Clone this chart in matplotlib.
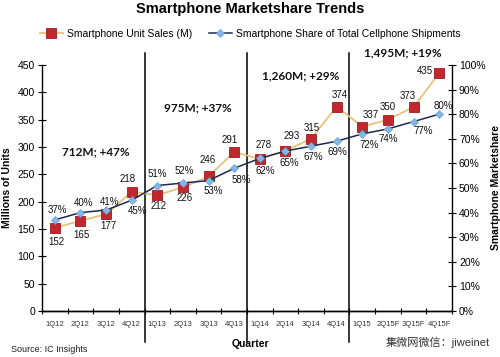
import matplotlib
matplotlib.use("Agg")
import matplotlib.pyplot as plt
import matplotlib.transforms as mtransforms
from matplotlib.ticker import FuncFormatter

plt.rcParams['font.family'] = ['Liberation Sans', 'Noto Sans CJK SC', 'DejaVu Sans']

quarters = ["1Q12", "2Q12", "3Q12", "4Q12", "1Q13", "2Q13", "3Q13", "4Q13",
            "1Q14", "2Q14", "3Q14", "4Q14", "1Q15", "2Q15F", "3Q15F", "4Q15F"]
unit_sales = [152, 165, 177, 218, 212, 226, 246, 291,
              278, 293, 315, 374, 337, 350, 373, 435]
share_pct = [37, 40, 41, 45, 51, 52, 53, 58,
             62, 65, 67, 69, 72, 74, 77, 80]
year_notes = ["712M; +47%", "975M; +37%", "1,260M; +29%", "1,495M; +19%"]

# label offsets in pixels (dx, dy up)
sales_off = [(2, -14), (1, -14), (2, -12), (-4, 13), (1, -11), (2, -11), (-1, 16), (-4, 12),
             (4, 14), (6, 15), (1, 11), (3, 12), (8, 12), (0, 13), (-6, 11), (-14, 2)]
share_off = [(3, 10), (3, 10), (4, 8), (6, -11), (0, 12), (1, 12), (5, -10), (7, -12),
             (6, -13), (4, -12), (2, -11), (1, -11), (7, -11), (0, -10), (10, -9), (4, 8)]

fig = plt.figure(figsize=(5, 3.57), dpi=100)
ax = fig.add_axes([0.084, 0.129, 0.82, 0.689])
ax2 = ax.twinx()

x = list(range(len(quarters)))
ax.plot(x, unit_sales, color="#E8C27C", linewidth=1.3, marker="s", markersize=6.5,
        markerfacecolor="#C1272D", markeredgecolor="#9B1C22", markeredgewidth=0.6,
        label="Smartphone Unit Sales (M)", zorder=3)
ax2.plot(x, share_pct, color="#1B2A52", linewidth=1.1, marker="D", markersize=4.5,
         markerfacecolor="#86B6E6", markeredgecolor="#6A9FD6", markeredgewidth=0.5,
         label="Smartphone Share of Total Cellphone Shipments", zorder=3)

for i, v in enumerate(unit_sales):
    ax.annotate(str(v), (i, v), xytext=sales_off[i], textcoords="offset pixels",
                ha="center", va="center", fontsize=7, color="#111111")
for i, v in enumerate(share_pct):
    ax2.annotate("%d%%" % v, (i, v), xytext=share_off[i], textcoords="offset pixels",
                 ha="center", va="center", fontsize=7, color="#111111")

ax.set_xlim(-0.5, len(quarters) - 0.5)
ax.set_ylim(0, 450)
ax.set_yticks(range(0, 451, 50))
ax2.set_ylim(0, 100)
ax2.set_yticks(range(0, 101, 10))
ax2.yaxis.set_major_formatter(FuncFormatter(lambda v, p: "%d%%" % v))

ax.set_xticks([i - 0.5 for i in range(len(quarters) + 1)])
ax.set_xticklabels([])
ax.set_xticks(x, minor=True)
ax.set_xticklabels(quarters, minor=True, fontsize=5.5, color="#333333")
ax.tick_params(axis="x", which="minor", length=0, pad=7)
ax.tick_params(axis="x", which="major", direction="inout", length=5, width=0.8)
ax.tick_params(axis="y", direction="inout", length=6, width=0.8, labelsize=7.5, pad=2)
ax2.tick_params(axis="y", direction="inout", length=6, width=0.8, labelsize=7.5, pad=2)

for a in (ax, ax2):
    a.spines["top"].set_visible(False)
    for s in ("left", "right", "bottom"):
        a.spines[s].set_linewidth(1.0)
ax.spines["right"].set_visible(False)
ax2.spines["left"].set_visible(False)

ax.set_ylabel("Millions of Units", fontsize=7.5, fontweight="bold", labelpad=4)
ax2.set_ylabel("Smartphone Marketshare", fontsize=7.5, fontweight="bold", labelpad=4)

# year dividers
trans = mtransforms.blended_transform_factory(ax.transData, ax.transAxes)
for b in (3.5, 7.5, 11.5):
    ax.plot([b, b], [-0.126, 1.05], color="black", linewidth=1.1, transform=trans,
            clip_on=False, zorder=2)

note_pos = [(1.6, 0.645), (5.6, 0.825), (9.6, 0.955), (13.6, 1.05)]
for (nx, ny), t in zip(note_pos, year_notes):
    ax.text(nx, ny, t, transform=trans, ha="center", va="center", fontsize=8.5,
            fontweight="bold", family="Lato", color="#111111")

h1, l1 = ax.get_legend_handles_labels()
h2, l2 = ax2.get_legend_handles_labels()
fig.legend(h1 + h2, l1 + l2, loc="center", bbox_to_anchor=(0.5, 0.905), ncol=2,
           frameon=False, fontsize=7.5, handlelength=2.2, columnspacing=1.6,
           handletextpad=0.4)

fig.text(0.5, 0.975, "Smartphone Marketshare Trends", ha="center", va="center",
         fontsize=10.5, fontweight="bold")
fig.text(0.5, 0.036, "Quarter", ha="center", va="center", fontsize=7.5, fontweight="bold")
fig.text(0.022, 0.02, "Source: IC Insights", ha="left", va="center", fontsize=6.5,
         color="#222222")
fig.text(0.98, 0.04, "集微网微信：jiweinet", ha="right", va="center", fontsize=8,
         color="#333333")

fig.savefig("out.png", dpi=100)
